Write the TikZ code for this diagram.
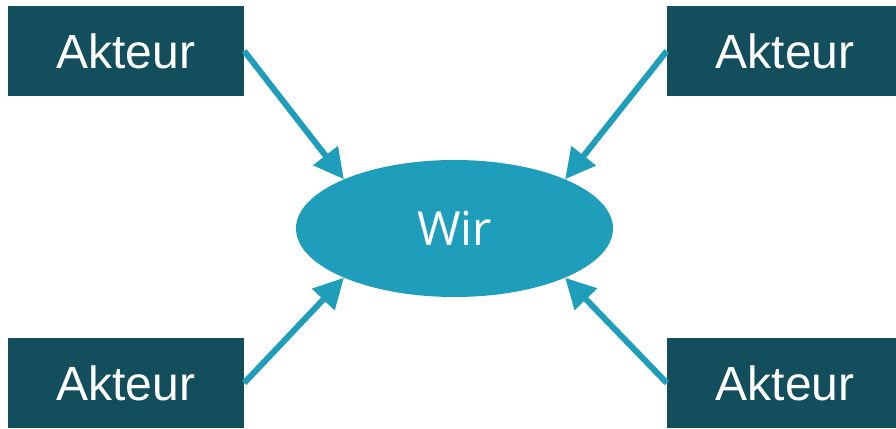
\documentclass[tikz,border=0pt]{standalone}
\usepackage{fontspec}
\setmainfont{Liberation Sans}
\newfontfamily\wirfont{Open Sans}
\usetikzlibrary{shapes.geometric,arrows.meta}
\definecolor{actorfill}{HTML}{124E5B}
\definecolor{usfill}{HTML}{1F9EBC}
\begin{document}
\begin{tikzpicture}[x=1pt,y=1pt,
  actor/.style={fill=actorfill,text=white,minimum width=236pt,minimum height=90pt,
    inner sep=0pt,font=\fontsize{48}{48}\selectfont},
  us/.style={ellipse,fill=usfill,text=white,minimum width=317pt,minimum height=137pt,
    inner sep=0pt,font=\wirfont\fontsize{47}{47}\selectfont},
  link/.style={draw=usfill,line width=6pt,-{Triangle[length=30pt,width=30pt]}}]
  \useasboundingbox (0,0) rectangle (896,428);
  \clip (0,0) rectangle (896,428);
  \node[us] (wir) at (454.5,199.5) {Wir};
  \node[actor] (tl) at (126,377) {Akteur};
  \node[actor] (tr) at (785,377) {Akteur};
  \node[actor] (bl) at (126,45) {Akteur};
  \node[actor] (br) at (785,45) {Akteur};
  \draw[link] (tl.east) -- (wir.156);
  \draw[link] (tr.west) -- (wir.24);
  \draw[link] (bl.east) -- (wir.204);
  \draw[link] (br.west) -- (wir.336);
\end{tikzpicture}
\end{document}
